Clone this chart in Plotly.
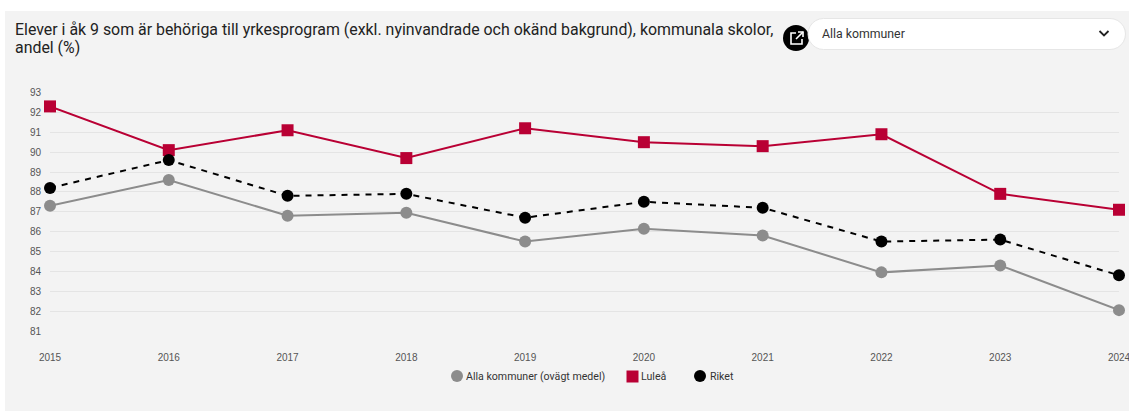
import math
import plotly.graph_objects as go

W, H = 1129, 411
years = [2015, 2016, 2017, 2018, 2019, 2020, 2021, 2022, 2023, 2024]
alla = [87.3, 88.6, 86.8, 86.95, 85.5, 86.15, 85.8, 83.95, 84.3, 82.05]
lulea = [92.3, 90.1, 91.1, 89.7, 91.2, 90.5, 90.3, 90.9, 87.9, 87.1]
riket = [88.2, 89.6, 87.8, 87.9, 86.7, 87.5, 87.2, 85.5, 85.6, 83.8]
y_ticks = list(range(81, 94))
title_lines = ["Elever i åk 9 som är behöriga till yrkesprogram (exkl. nyinvandrade och okänd bakgrund), kommunala skolor,", "andel (%)"]
dropdown_text = "Alla kommuner"
names = ["Alla kommuner (ovägt medel)", "Luleå", "Riket"]
GRAY, RED, BLACK = "#8c8c8c", "#b90034", "#000000"

px = lambda x: x / W
py = lambda y: 1 - y / H
def P(*pts, close=False):
    s = " ".join(("M" if i == 0 else "L") + f"{px(x):.5f},{py(y):.5f}" for i, (x, y) in enumerate(pts))
    return s + (" Z" if close else "")
def rrect(x0, y0, x1, y1, r):
    n = 6
    pts = []
    for cx, cy, a0 in [(x1-r, y0+r, -90), (x1-r, y1-r, 0), (x0+r, y1-r, 90), (x0+r, y0+r, 180)]:
        for i in range(n+1):
            a = math.radians(a0 + 90*i/n)
            pts.append((cx + r*math.cos(a), cy + r*math.sin(a)))
    return P(*pts, close=True)
def pshape(path, fill=None, line=None, width=1, layer="above"):
    return dict(type="path", xref="paper", yref="paper", path=path, fillcolor=fill or "rgba(0,0,0,0)",
                line=dict(color=line or "rgba(0,0,0,0)", width=width), layer=layer)
def circ(cx, cy, r, col):
    return dict(type="circle", xref="paper", yref="paper", x0=px(cx-r), x1=px(cx+r), y0=py(cy+r), y1=py(cy-r),
                fillcolor=col, line=dict(width=0))

fig = go.Figure()
for name, vals, col, sym, dash in [(names[0], alla, GRAY, "circle", False),
                                   (names[1], lulea, RED, "square", False),
                                   (names[2], riket, BLACK, "circle", True)]:
    fig.add_trace(go.Scatter(x=years, y=vals, mode="lines+markers", name=name, showlegend=False, cliponaxis=False,
                             line=dict(color=col, width=2, dash="6px,6px" if dash else "solid"),
                             marker=dict(color=col, symbol=sym, size=12, line=dict(width=0))))

shapes = [
    pshape(P((5, 11), (1129, 11), (1129, 411), (5, 411), close=True), fill="#f3f3f3", layer="below"),
    circ(796, 38, 13, BLACK),
    pshape(rrect(808, 18.5, 1125.5, 49.5, 15.5), fill="#ffffff", line="#e6e6e6"),
    pshape(P((1099.5, 31), (1104, 35.5), (1108.5, 31)), line="#222222", width=1.8),
    pshape(P((796, 33), (791, 33), (791, 44), (802, 44), (802, 39)), line="#ffffff", width=1.6),
    pshape(P((796, 39), (803, 32)), line="#ffffff", width=1.6),
    pshape(P((798, 32), (803, 32), (803, 37)), line="#ffffff", width=1.6),
    circ(457, 376, 6, GRAY),
    pshape(P((626.5, 370.5), (638.5, 370.5), (638.5, 382.5), (626.5, 382.5), close=True), fill=RED),
    circ(700, 376, 6, BLACK),
]
def note(text, x, y, size, col, family="Roboto, sans-serif"):
    return dict(text=text, xref="paper", yref="paper", x=px(x), y=py(y), xanchor="left", yanchor="middle",
                align="left", showarrow=False, font=dict(family=family, size=size, color=col))

fig.update_layout(
    width=W, height=H, margin=dict(l=0, r=0, t=0, b=0, autoexpand=False), paper_bgcolor="#ffffff", plot_bgcolor="rgba(0,0,0,0)",
    font=dict(family="Roboto, sans-serif"), shapes=shapes, showlegend=False,
    xaxis=dict(domain=[px(50), px(1119)], range=[2015, 2024], tickvals=years, showgrid=False, zeroline=False,
               automargin=False, ticks="outside", ticklen=17, tickcolor="rgba(0,0,0,0)", showline=False,
               ticklabeloverflow="allow",
               tickfont=dict(family="Liberation Sans, Arial, sans-serif", size=10, color="#555555")),
    yaxis=dict(domain=[py(331), py(92.5)], range=[81, 93], tickvals=y_ticks, gridcolor="#e4e4e4", gridwidth=1,
               automargin=False, zeroline=False, showline=False, ticks="outside", ticklen=6, tickcolor="rgba(0,0,0,0)",
               tickfont=dict(family="Liberation Sans, Arial, sans-serif", size=10, color="#555555")),
    annotations=[
        note(title_lines[0], 13, 29.5, 15.9, "#222222"),
        note(title_lines[1], 13, 48, 15.9, "#222222"),
        note(dropdown_text, 820, 34, 12.3, "#333333"),
        note(names[0], 464, 376.5, 10.6, "#333333"),
        note(names[1], 639, 376.5, 10.6, "#333333"),
        note(names[2], 708, 376.5, 10.6, "#333333"),
    ],
)
fig.write_html("out.html", post_script="document.body.style.margin='0';document.documentElement.style.overflow='hidden';",
               config=dict(displayModeBar=False))
